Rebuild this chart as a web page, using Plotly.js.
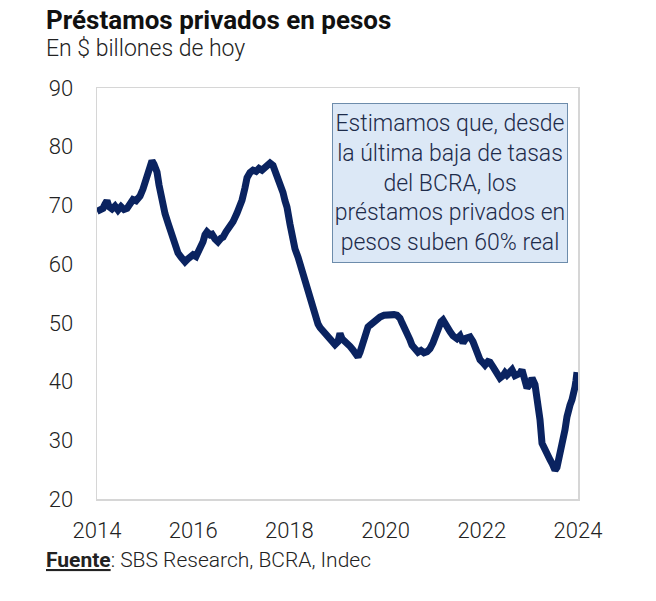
<!DOCTYPE html>
<html>
<head>
<meta charset="utf-8">
<script src="https://cdn.plot.ly/plotly-3.0.1.min.js"></script>
<style>
  html, body { margin: 0; padding: 0; background: #ffffff; }
  #chart { width: 656px; height: 601px; }
</style>
</head>
<body>
<div id="chart"></div>
<script>
// Préstamos privados en pesos, en $ billones de hoy (fecha en años decimales)
const fechas = [
  2014.00, 2014.06, 2014.125, 2014.166, 2014.208, 2014.249, 2014.312, 2014.374, 2014.437, 2014.499,
  2014.561, 2014.624, 2014.686, 2014.748, 2014.811, 2014.894, 2014.956, 2014.998, 2015.060, 2015.102,
  2015.143, 2015.185, 2015.247, 2015.289, 2015.351, 2015.414, 2015.476, 2015.538, 2015.580, 2015.642,
  2015.684, 2015.746, 2015.788, 2015.830, 2015.892, 2015.954, 2015.996, 2016.058, 2016.100, 2016.141,
  2016.204, 2016.245, 2016.287, 2016.349, 2016.391, 2016.453, 2016.516, 2016.578, 2016.620, 2016.682,
  2016.765, 2016.827, 2016.911, 2016.973, 2017.015, 2017.077, 2017.119, 2017.181, 2017.243, 2017.306,
  2017.368, 2017.430, 2017.493, 2017.555, 2017.597, 2017.659, 2017.701, 2017.763, 2017.805, 2017.867,
  2017.909, 2017.950, 2018.012, 2018.054, 2018.116, 2018.179, 2018.220, 2018.262, 2018.324, 2018.366,
  2018.428, 2018.491, 2018.553, 2018.595, 2018.636, 2018.699, 2018.740, 2018.782, 2018.844, 2018.906,
  2018.948, 2019.010, 2019.052, 2019.094, 2019.156, 2019.198, 2019.260, 2019.322, 2019.364, 2019.426,
  2019.468, 2019.530, 2019.572, 2019.634, 2019.676, 2019.738, 2019.800, 2019.884, 2019.967, 2020.029,
  2020.091, 2020.175, 2020.237, 2020.299, 2020.341, 2020.403, 2020.445, 2020.507, 2020.549, 2020.611,
  2020.674, 2020.736, 2020.798, 2020.861, 2020.923, 2020.985, 2021.048, 2021.089, 2021.152, 2021.193,
  2021.256, 2021.297, 2021.339, 2021.401, 2021.484, 2021.547, 2021.609, 2021.672, 2021.755, 2021.817,
  2021.859, 2021.921, 2021.963, 2022.025, 2022.067, 2022.129, 2022.170, 2022.233, 2022.274, 2022.337,
  2022.378, 2022.441, 2022.482, 2022.524, 2022.586, 2022.628, 2022.690, 2022.732, 2022.794, 2022.836,
  2022.898, 2022.940, 2023.002, 2023.044, 2023.106, 2023.148, 2023.189, 2023.210, 2023.252, 2023.314,
  2023.356, 2023.418, 2023.459, 2023.522, 2023.563, 2023.584, 2023.626, 2023.668, 2023.730, 2023.771,
  2023.792, 2023.834, 2023.875, 2023.917, 2023.938, 2023.958, 2023.979
];

const prestamos = [
  69.0, 69.3, 69.5, 70.2, 70.8, 69.8, 69.4, 69.9, 69.2, 69.8,
  69.3, 69.5, 70.3, 71.0, 70.8, 71.6, 72.8, 73.8, 75.5, 76.4,
  77.6, 77.0, 75.7, 73.5, 70.4, 68.6, 67.0, 65.2, 64.1, 63.0,
  61.9, 61.2, 60.7, 60.4, 60.9, 61.2, 61.6, 61.3, 62.0, 62.4,
  63.8, 65.0, 65.5, 65.0, 65.1, 64.3, 63.8, 64.4, 64.6, 65.5,
  66.3, 67.2, 68.7, 69.8, 70.9, 73.0, 74.7, 75.6, 76.0, 75.8,
  76.3, 76.0, 76.6, 77.0, 77.2, 76.8, 76.0, 74.9, 73.8, 72.2,
  70.8, 69.7, 66.8, 64.6, 62.6, 61.2, 60.0, 59.0, 57.6, 55.8,
  54.2, 52.8, 51.0, 49.8, 49.2, 48.6, 48.0, 47.6, 47.3, 46.7,
  46.3, 46.8, 48.2, 47.3, 46.9, 46.6, 46.0, 45.4, 45.0, 44.2,
  45.0, 46.6, 48.0, 49.3, 49.6, 50.1, 50.6, 51.0, 51.3, 51.4,
  51.2, 51.4, 51.3, 50.8, 50.0, 49.1, 48.3, 47.1, 46.2, 45.6,
  45.0, 45.3, 44.9, 45.1, 45.6, 46.6, 48.0, 49.3, 50.2, 50.5,
  49.4, 48.6, 48.5, 47.8, 47.3, 47.8, 46.6, 47.4, 47.6, 46.8,
  45.9, 44.6, 43.7, 43.2, 42.8, 43.4, 43.3, 42.5, 42.0, 41.2,
  40.6, 41.0, 41.5, 41.1, 41.6, 42.0, 41.0, 41.1, 41.4, 42.0,
  40.4, 38.9, 39.6, 40.6, 39.5, 37.4, 35.0, 33.5, 29.5, 28.2,
  27.5, 26.7, 26.1, 24.9, 25.4, 26.1, 27.8, 28.9, 31.8, 34.0,
  35.2, 36.0, 36.9, 38.0, 39.1, 40.2, 41.6
];

const ticksX = [2014, 2016, 2018, 2020, 2022, 2024];
const ticksY = [20, 30, 40, 50, 60, 70, 80, 90];

const titulo = "Préstamos privados en pesos";
const subtitulo = "En $ billones de hoy";
const fuente = "<b><u>Fuente</u></b>: SBS Research, BCRA, Indec";
const nota = "Estimamos que, desde<br>la última baja de tasas<br>del BCRA, los<br>préstamos privados en<br>pesos suben 60% real";

const FONT = "Roboto, 'Noto Sans', sans-serif";

const trace = {
  x: fechas,
  y: prestamos,
  type: "scatter",
  mode: "lines",
  line: { color: "#0a2360", width: 7, shape: "linear" },
  hoverinfo: "x+y"
};

const layout = {
  width: 656,
  height: 601,
  margin: { l: 97, r: 78, t: 88, b: 102 },
  paper_bgcolor: "#ffffff",
  plot_bgcolor: "#ffffff",
  showlegend: false,
  font: { family: FONT, color: "#222222" },
  xaxis: {
    range: [2014, 2024],
    tickvals: ticksX,
    ticktext: ticksX.map(String),
    showgrid: false,
    zeroline: false,
    showline: true,
    mirror: true,
    linecolor: "#d6d6d6",
    linewidth: 1.5,
    ticks: "",
    ticklabelstandoff: 11,
    tickfont: { family: FONT, size: 22, color: "#222222", weight: 300 }
  },
  yaxis: {
    range: [20, 90],
    tickvals: ticksY,
    showgrid: false,
    zeroline: false,
    showline: true,
    mirror: true,
    linecolor: "#d6d6d6",
    linewidth: 1.5,
    ticks: "",
    ticklabelstandoff: 18,
    tickfont: { family: FONT, size: 22, color: "#222222", weight: 300 }
  },
  annotations: [
    {
      xref: "paper", yref: "paper",
      x: (44 - 97) / 481, y: 1 + (88 - 3) / 411,
      xanchor: "left", yanchor: "top",
      text: "<b>" + titulo + "</b>",
      showarrow: false,
      font: { family: FONT, size: 26, color: "#111111" }
    },
    {
      xref: "paper", yref: "paper",
      x: (44 - 97) / 481, y: 1 + (88 - 33) / 411,
      xanchor: "left", yanchor: "top",
      text: subtitulo,
      showarrow: false,
      font: { family: FONT, size: 23, color: "#222222", weight: 300 }
    },
    {
      xref: "paper", yref: "paper",
      x: (44 - 97) / 481, y: -(546 - 499) / 411,
      xanchor: "left", yanchor: "top",
      text: fuente,
      showarrow: false,
      font: { family: FONT, size: 21, color: "#222222", weight: 300 }
    },
    {
      xref: "paper", yref: "paper",
      x: (450 - 97) / 481, y: (499 - 183) / 411,
      xanchor: "center", yanchor: "middle",
      text: nota,
      showarrow: false,
      align: "center",
      width: 232,
      height: 156,
      bgcolor: "#dce8f6",
      bordercolor: "#6d8cab",
      borderwidth: 1,
      borderpad: 1,
      font: { family: FONT, size: 23, color: "#1d2b4a", weight: 300 }
    }
  ]
};

Plotly.newPlot("chart", [trace], layout, { displayModeBar: false, staticPlot: true });
</script>
</body>
</html>
